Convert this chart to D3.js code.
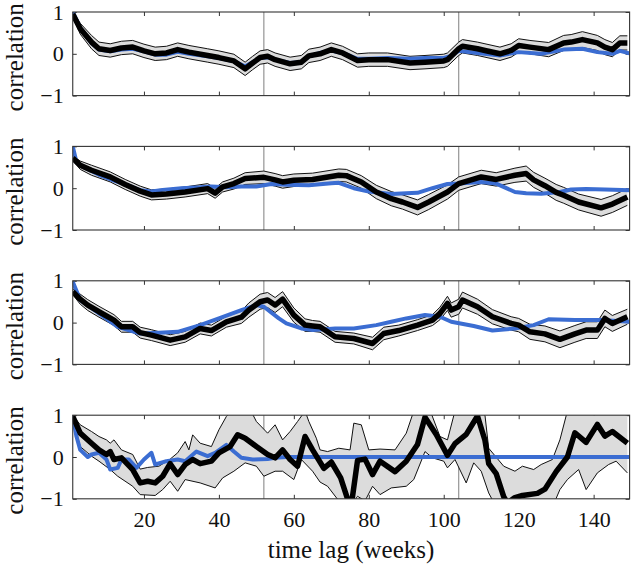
<!DOCTYPE html>
<html><head><meta charset="utf-8">
<script src="https://cdnjs.cloudflare.com/ajax/libs/d3/7.8.5/d3.min.js"></script>
<style>body{margin:0;background:#fff}</style>
</head><body>
<svg id="chart" width="632" height="565"></svg>
<script>
// ---------- data ----------
const xTicks = [20, 40, 60, 80, 100, 120, 140];
const yTicks = [-1, 0, 1];
const yearMarks = [52, 104];

// panel 1
const p1Weeks = [1,3,6,8,11,14,17,20,23,26,29,32,37,40,44,47,49,51,53,55,59,62,64,67,70,73,77,80,85,91,95,100,101,104,105,109,111,115,118,120,123,128,132,134,137,141,143,145,147,149];
const p1Mean = [0.95,0.6,0.28,0.12,0.08,0.14,0.16,0.07,0.0,0.02,0.1,0.04,-0.04,-0.09,-0.17,-0.36,-0.22,-0.09,-0.06,-0.14,-0.24,-0.2,-0.05,0.0,0.1,0.02,-0.16,-0.14,-0.14,-0.22,-0.2,-0.17,-0.14,0.12,0.18,0.12,0.08,0.0,0.08,0.2,0.16,0.1,0.26,0.28,0.34,0.26,0.16,0.1,0.26,0.26];
const p1Half = [0.06,0.13,0.16,0.16,0.16,0.16,0.16,0.16,0.16,0.16,0.16,0.16,0.16,0.16,0.16,0.16,0.16,0.16,0.16,0.16,0.16,0.16,0.16,0.16,0.16,0.16,0.16,0.16,0.16,0.16,0.16,0.16,0.16,0.16,0.16,0.16,0.16,0.16,0.16,0.16,0.16,0.17,0.18,0.18,0.19,0.18,0.18,0.17,0.17,0.17];
const b1Weeks = [1,3,6,8,11,14,17,20,23,26,29,32,37,40,44,47,49,51,53,55,59,62,64,67,70,73,77,80,85,91,95,100,102,104,109,115,120,126,132,137,141,145,147,150];
const b1Vals = [1.0,0.62,0.26,0.1,0.06,0.1,0.12,0.06,-0.02,-0.02,0.05,0.0,-0.06,-0.1,-0.18,-0.3,-0.2,-0.1,-0.08,-0.14,-0.22,-0.2,-0.06,0.02,0.08,0.02,-0.12,-0.12,-0.1,-0.12,-0.1,-0.1,-0.05,0.07,0.02,-0.04,0.04,0.0,0.1,0.12,0.04,0.0,0.07,0.0];

// panel 2
const p2Weeks = [1,3,6,11,15,19,22,26,31,37,39,41,44,47,52,55,57,60,65,72,74,78,82,86,89,93,96,101,104,110,114,119,122,124,127,130,132,136,142,145,149];
const p2Mean = [0.72,0.55,0.43,0.27,0.09,-0.07,-0.16,-0.14,-0.09,-0.01,-0.12,0.03,0.11,0.23,0.26,0.2,0.15,0.19,0.21,0.31,0.3,0.15,-0.09,-0.25,-0.33,-0.46,-0.33,-0.09,0.11,0.27,0.21,0.31,0.35,0.2,0.06,-0.1,-0.17,-0.33,-0.47,-0.38,-0.21];
const p2Half = [0.06,0.1,0.12,0.12,0.12,0.12,0.12,0.12,0.12,0.12,0.12,0.12,0.13,0.14,0.15,0.15,0.15,0.15,0.15,0.15,0.15,0.15,0.16,0.17,0.17,0.18,0.18,0.17,0.16,0.16,0.16,0.17,0.18,0.18,0.18,0.19,0.19,0.19,0.2,0.2,0.2];
const b2Weeks = [1,2,4,8,12,16,19,22,25,30,35,38,42,46,50,54,58,64,70,72,76,80,86,90,93,97,101,104,110,114,119,122,126,131,134,138,143,150];
const b2Vals = [1.0,0.62,0.5,0.32,0.18,0.06,-0.05,-0.08,-0.04,0.0,0.02,0.04,0.02,0.04,0.04,0.1,0.08,0.07,0.12,0.13,0.0,-0.08,-0.14,-0.12,-0.11,0.0,0.1,0.11,0.15,0.11,-0.09,-0.12,-0.13,-0.09,-0.03,-0.02,-0.03,-0.05];

// panel 3
const p3Weeks = [1,3,5,8,12,14,17,19,22,27,31,35,38,42,46,48,51,53,55,57,60,63,65,67,71,76,81,84,88,93,97,99,101,102,104,105,109,113,118,120,123,127,131,135,138,141,143,145,149];
const p3Mean = [0.74,0.56,0.42,0.26,0.06,-0.1,-0.1,-0.24,-0.3,-0.42,-0.34,-0.14,-0.19,0.02,0.13,0.3,0.5,0.54,0.42,0.56,0.18,-0.06,-0.08,-0.1,-0.34,-0.38,-0.5,-0.26,-0.19,-0.06,0.06,0.22,0.46,0.3,0.38,0.54,0.38,0.14,-0.02,-0.06,-0.22,-0.27,-0.4,-0.27,-0.18,-0.18,0.1,-0.02,0.14];
const p3Half = [0.07,0.12,0.13,0.13,0.13,0.13,0.13,0.13,0.13,0.13,0.13,0.13,0.13,0.13,0.15,0.17,0.18,0.18,0.18,0.18,0.17,0.15,0.13,0.13,0.13,0.13,0.15,0.15,0.13,0.13,0.13,0.15,0.17,0.17,0.18,0.19,0.18,0.17,0.16,0.16,0.18,0.19,0.2,0.2,0.2,0.2,0.2,0.19,0.18];
const b3Weeks = [1,3,8,13,19,24,29,35,40,46,50,52,56,58,62,65,71,76,82,86,90,95,99,102,108,113,119,124,128,135,142,150];
const b3Vals = [0.98,0.54,0.22,-0.1,-0.26,-0.24,-0.22,-0.06,0.1,0.3,0.42,0.38,0.1,-0.02,-0.14,-0.18,-0.14,-0.14,-0.06,0.02,0.1,0.18,0.14,0.02,-0.08,-0.19,-0.14,-0.06,0.08,0.06,0.06,0.02];

// panel 4
const p4Weeks = [1,3,6,8,10,11,12,14,17,19,21,23,25,27,29,31,33,35,38,40,43,45,47,50,53,55,57,59,61,63,65,68,70,72.5,74.5,75.5,77,79,81,83,87,90,93,95,98,101,103,106,109,111,112,114,116,117,119,121,125,127,130,133,135,138,141,143,145,149];
const p4Mean = [0.97,0.57,0.33,0.17,0.06,0.13,-0.06,-0.02,-0.3,-0.62,-0.58,-0.62,-0.46,-0.16,-0.42,-0.18,-0.06,-0.16,-0.1,0.1,0.25,0.53,0.45,0.25,0.06,-0.02,0.17,-0.06,-0.22,0.49,0.17,-0.27,-0.12,-0.5,-1.05,-1.05,-0.08,-0.05,-0.42,-0.1,-0.35,-0.1,0.3,0.95,0.54,0.04,0.32,0.54,0.98,0.4,-0.16,-0.4,-0.95,-1.1,-0.97,-0.92,-0.87,-0.77,-0.35,0.0,0.58,0.35,0.78,0.5,0.61,0.33];
const u4Weeks = [1,3,6,8,10,11,12,14,17,19,21,24,27,29,31,32,33,35,38,40,42,44,48,50,53,55,57,59,61,63,64,66,67,69,72,75,76,78,80,83,87,90,92,96,99,101,103,108,111,112,116,119,121,124,126,129,131,133,149];
const u4Vals = [1.0,0.77,0.61,0.49,0.41,0.33,0.41,0.17,0.06,-0.29,-0.25,-0.22,-0.05,0.1,0.37,0.17,0.53,0.33,0.25,0.65,0.97,1.15,1.2,0.85,0.57,0.77,0.41,0.61,0.85,1.1,0.85,0.45,0.17,0.13,0.21,0.17,0.81,0.77,0.17,0.19,0.17,0.57,1.1,1.2,0.49,0.41,1.1,1.2,1.0,0.21,-0.22,-0.34,-0.22,-0.3,-0.18,-0.06,0.41,1.1,1.2];
const l4Weeks = [1,3,6,8,11,13,17,19,23,25,27,29,31,35,39,41,44,47,50,52,55,57,60,62,65,67,69,72,75,77,79,81,83,86,90,92,95,97,100,101,103,106,108,110,112,114,129,131,133,136,138,141,144,146,149];
const l4Vals = [0.9,0.25,0.02,-0.1,-0.3,-0.46,-0.7,-0.9,-0.92,-0.78,-0.58,-0.82,-0.54,-0.62,-0.74,-0.5,-0.34,-0.14,-0.22,-0.46,-0.34,-0.34,-0.54,-0.06,-0.34,-0.6,-0.7,-1.05,-1.2,-0.94,-1.05,-0.7,-0.9,-0.74,-0.7,-0.54,0.13,-0.02,-0.1,-0.26,-0.06,-0.62,-0.14,-0.34,-0.86,-1.2,-1.2,-0.78,-0.54,-0.3,-0.78,-0.38,-0.18,-0.1,-0.38];
const b4Weeks = [1,2,3,5,6,8,10,11,13,14,16,18,20,22,23,26,29,31,34,37,39,42,44,46,49,53,55,58,150];
const b4Vals = [0.97,0.49,0.17,0.0,0.06,0.1,-0.06,-0.3,-0.26,-0.06,-0.06,-0.26,-0.06,0.1,-0.18,-0.1,-0.06,-0.1,0.13,0.02,0.1,0.29,0.13,-0.02,-0.06,-0.05,-0.02,0.0,0.0];

// ---------- build panel tables ----------
const zip = (xs, ys) => xs.map((w, i) => [w, ys[i]]);
const symBand = (xs, m, h) => ({
  upper: xs.map((w, i) => [w, m[i] + h[i]]),
  lower: xs.map((w, i) => [w, m[i] - h[i]])
});
const panels = [
  {mean: zip(p1Weeks, p1Mean), ...symBand(p1Weeks, p1Mean, p1Half), blue: zip(b1Weeks, b1Vals)},
  {mean: zip(p2Weeks, p2Mean), ...symBand(p2Weeks, p2Mean, p2Half), blue: zip(b2Weeks, b2Vals)},
  {mean: zip(p3Weeks, p3Mean), ...symBand(p3Weeks, p3Mean, p3Half), blue: zip(b3Weeks, b3Vals)},
  {mean: zip(p4Weeks, p4Mean), upper: zip(u4Weeks, u4Vals), lower: zip(l4Weeks, l4Vals), blue: zip(b4Weeks, b4Vals)}
];

// ---------- layout ----------
const svg = d3.select('#chart');
const FONT = '"Liberation Serif", "Times New Roman", serif';
const x = d3.scaleLinear().domain([1, 149.6]).range([72.75, 629.6]);
const tops = [12, 146.4, 280.8, 415.2];
const ph = 83.6;
const BLUE = '#3b6dd2';

panels.forEach((p, i) => {
  const top = tops[i], bot = top + ph;
  const y = d3.scaleLinear().domain([-1, 1]).range([bot, top]);
  const g = svg.append('g');

  g.append('clipPath').attr('id', 'clip' + i)
    .append('rect').attr('x', x.range()[0]).attr('y', top)
    .attr('width', x.range()[1] - x.range()[0]).attr('height', ph);

  // year marks
  yearMarks.forEach(v => {
    g.append('line').attr('x1', x(v)).attr('x2', x(v)).attr('y1', top).attr('y2', bot)
      .attr('stroke', '#8a8a8a').attr('stroke-width', 1.1);
  });

  // axes
  const xb = d3.axisBottom(x).tickValues(xTicks).tickSizeInner(-4).tickSizeOuter(0)
    .tickPadding(12.5).tickFormat(i === 3 ? d3.format('d') : () => '');
  const xt = d3.axisTop(x).tickValues(xTicks).tickSizeInner(-4).tickSizeOuter(0).tickFormat(() => '');
  const yl = d3.axisLeft(y).tickValues(yTicks).tickSizeInner(-4).tickSizeOuter(0).tickPadding(9)
    .tickFormat(d3.format('d'));
  const yr = d3.axisRight(y).tickValues(yTicks).tickSizeInner(-4).tickSizeOuter(0).tickFormat(() => '');
  const axes = [
    g.append('g').attr('transform', `translate(0,${bot})`).call(xb),
    g.append('g').attr('transform', `translate(0,${top})`).call(xt),
    g.append('g').attr('transform', `translate(${x.range()[0]},0)`).call(yl),
    g.append('g').attr('transform', `translate(${x.range()[1]},0)`).call(yr)
  ];
  axes.forEach(a => {
    a.select('.domain').remove();
    a.selectAll('line').attr('stroke', '#333');
    a.selectAll('text').attr('font-family', FONT).attr('font-size', 22).attr('fill', '#111');
  });

  // data
  const dg = g.append('g').attr('clip-path', `url(#clip${i})`);
  const line = d3.line().x(d => x(d[0])).y(d => y(d[1]));
  const poly = p.upper.concat(p.lower.slice().reverse());
  dg.append('path').attr('d', line(poly) + 'Z').attr('fill', '#dcdcdc').attr('stroke', 'none');
  [p.upper, p.lower].forEach(e => dg.append('path').attr('d', line(e))
    .attr('fill', 'none').attr('stroke', '#111').attr('stroke-width', 1));
  dg.append('path').attr('d', line(p.blue)).attr('fill', 'none').attr('stroke', BLUE)
    .attr('stroke-width', 4).attr('stroke-linejoin', 'round');
  dg.append('path').attr('d', line(p.mean)).attr('fill', 'none').attr('stroke', '#000')
    .attr('stroke-width', 5.5).attr('stroke-linejoin', 'round');

  // frame
  g.append('rect').attr('x', x.range()[0]).attr('y', top)
    .attr('width', x.range()[1] - x.range()[0]).attr('height', ph)
    .attr('fill', 'none').attr('stroke', '#333').attr('stroke-width', 1.1);

  // y label
  svg.append('text').attr('transform', `translate(23,${(top + bot) / 2 + 3.5}) rotate(-90)`)
    .attr('text-anchor', 'middle').attr('font-family', FONT).attr('font-size', 25)
    .attr('fill', '#111').text('correlation');
});

svg.append('text').attr('x', 351).attr('y', 558).attr('text-anchor', 'middle')
  .attr('font-family', FONT).attr('font-size', 25).attr('fill', '#111').text('time lag (weeks)');
</script>
</body></html>
